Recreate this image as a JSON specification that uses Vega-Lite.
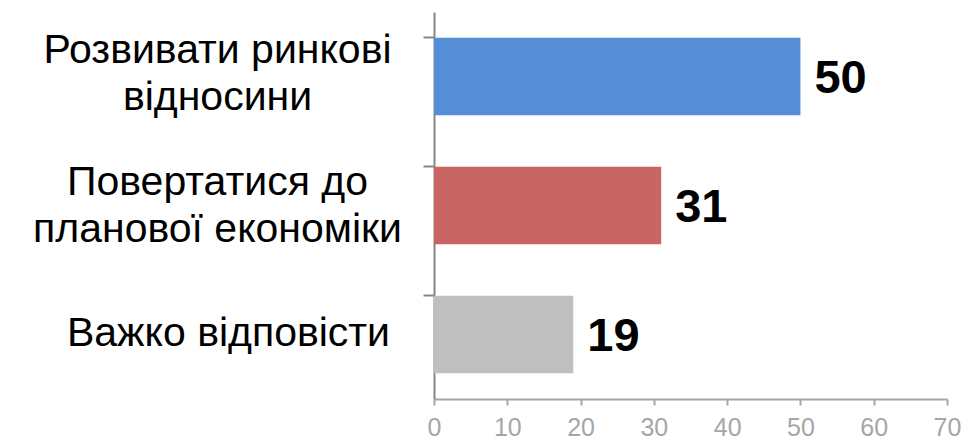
{
  "$schema": "https://vega.github.io/schema/vega-lite/v6.json",
  "width": 513,
  "height": 387,
  "autosize": {"type": "none"},
  "padding": {"left": 434, "top": 12, "right": 18, "bottom": 43},
  "background": "white",
  "config": {"view": {"stroke": null}, "font": "Liberation Sans"},
  "data": {
    "values": [
      {"category": "Розвивати ринкові|відносини", "value": 50, "color": "#558ED5"},
      {"category": "Повертатися до|планової економіки", "value": 31, "color": "#C86563"},
      {"category": "Важко відповісти", "value": 19, "color": "#BFBFBF"}
    ]
  },
  "encoding": {
    "y": {
      "field": "category",
      "type": "nominal",
      "sort": null,
      "scale": {"paddingInner": 0.4, "paddingOuter": 0.2},
      "axis": {
        "title": null,
        "labelExpr": "split(datum.value, '|')",
        "labelAlign": "center",
        "labelBaseline": "middle",
        "labelFontSize": 41,
        "labelColor": "#000000",
        "labelLineHeight": 47,
        "labelPadding": {
          "condition": {"test": "datum.value == 'Важко відповісти'", "value": 195},
          "value": 206
        },
        "labelOffset": {
          "condition": [
            {"test": "indexof(datum.value, 'Розвивати') >= 0", "value": -26},
            {"test": "indexof(datum.value, 'Повертатися') >= 0", "value": -23}
          ],
          "value": -1
        },
        "labelLimit": 600,
        "labelBound": false,
        "tickSize": 11,
        "tickWidth": 2,
        "tickColor": "#868686",
        "bandPosition": 0,
        "domainColor": "#868686",
        "domainWidth": 2,
        "labelFont": "Liberation Sans"
      }
    },
    "x": {
      "field": "value",
      "type": "quantitative",
      "scale": {"domain": [0, 70], "nice": false},
      "axis": {
        "title": null,
        "values": [0, 10, 20, 30, 40, 50, 60, 70],
        "grid": false,
        "labelFontSize": 25,
        "labelColor": "#A6A6A6",
        "labelPadding": 10,
        "tickSize": 6,
        "tickWidth": 2,
        "tickColor": "#A6A6A6",
        "domainColor": "#A6A6A6",
        "domainWidth": 2,
        "labelFont": "Liberation Sans",
        "labelOverlap": false,
        "labelFlush": false
      }
    }
  },
  "layer": [
    {
      "mark": {"type": "bar"},
      "encoding": {
        "color": {"field": "color", "type": "nominal", "scale": null}
      }
    },
    {
      "mark": {"type": "text", "align": "left", "baseline": "middle", "dx": 14, "dy": 2, "fontSize": 47, "fontWeight": "bold", "color": "#000000", "font": "Liberation Sans"},
      "encoding": {
        "text": {"field": "value", "type": "quantitative"}
      }
    }
  ]
}
